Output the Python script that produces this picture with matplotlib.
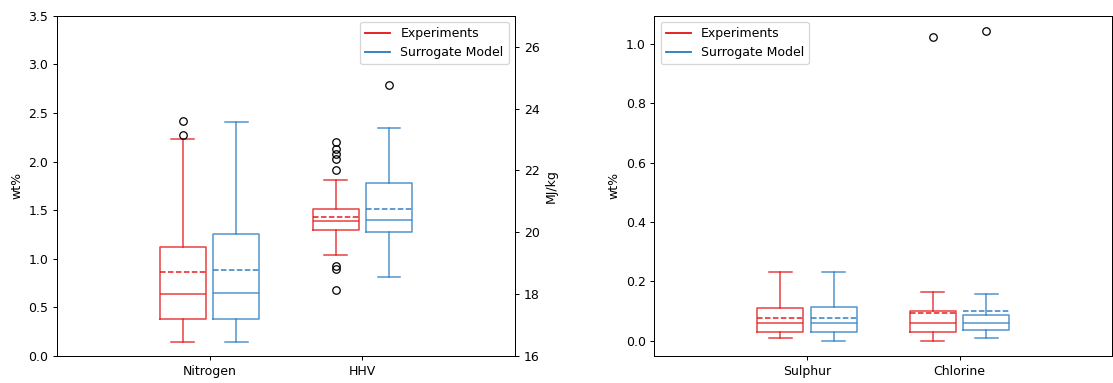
import matplotlib
matplotlib.use("Agg")
import matplotlib.pyplot as plt
from matplotlib.lines import Line2D

RED = "#e41a1c"
BLUE = "#2f7fc1"

labels = ["Experiments", "Surrogate Model"]

# box statistics read as: whislo, q1, med, mean, q3, whishi
nitrogen_exp = [0.14, 0.377, 0.634, 0.860, 1.124, 2.228]
nitrogen_sur = [0.14, 0.377, 0.644, 0.881, 1.258, 2.407]
nitrogen_exp_fliers = [2.273, 2.42]
nitrogen_sur_fliers = []

hhv_exp = [19.25, 20.06, 20.37, 20.48, 20.74, 21.70]
hhv_sur = [18.54, 20.02, 20.41, 20.74, 21.58, 23.38]
hhv_exp_fliers = [22.93, 22.70, 22.52, 22.36, 22.02, 18.92, 18.80, 18.14]
hhv_sur_fliers = [24.77]

sulphur_exp = [0.009, 0.028, 0.059, 0.077, 0.109, 0.230]
sulphur_sur = [0.0, 0.028, 0.059, 0.077, 0.112, 0.230]
sulphur_exp_fliers = []
sulphur_sur_fliers = []

chlorine_exp = [0.0, 0.030, 0.059, 0.092, 0.098, 0.165]
chlorine_sur = [0.009, 0.035, 0.059, 0.100, 0.086, 0.158]
chlorine_exp_fliers = [1.022]
chlorine_sur_fliers = [1.043]

offset = 0.175
width = 0.3


def make_stats(vals, fliers):
    keys = ["whislo", "q1", "med", "mean", "q3", "whishi"]
    d = dict(zip(keys, vals))
    d["fliers"] = fliers
    return d


def draw_box(ax, vals, fliers, pos, color):
    props = dict(color=color, linewidth=1.2, alpha=0.85)
    ax.bxp([make_stats(vals, fliers)], positions=[pos], widths=width,
           showmeans=True, meanline=True,
           boxprops=props, whiskerprops=props, capprops=props, medianprops=props,
           meanprops=dict(color=color, linewidth=1.2, linestyle="--"),
           flierprops=dict(marker="o", markerfacecolor="none", markeredgecolor="black",
                           markersize=6))


handles = [Line2D([], [], color=RED), Line2D([], [], color=BLUE)]

DPI = 90
fig = plt.figure(figsize=(1113 / DPI, 383 / DPI), dpi=DPI)
ax1 = fig.add_axes([0.0512, 0.0705, 0.4115, 0.8885])
ax3 = fig.add_axes([0.588, 0.0705, 0.4112, 0.8885])

# left panel: Nitrogen on wt%, HHV on MJ/kg twin axis
ax2 = ax1.twinx()
draw_box(ax1, nitrogen_exp, nitrogen_exp_fliers, 1 - offset, RED)
draw_box(ax1, nitrogen_sur, nitrogen_sur_fliers, 1 + offset, BLUE)
draw_box(ax2, hhv_exp, hhv_exp_fliers, 2 - offset, RED)
draw_box(ax2, hhv_sur, hhv_sur_fliers, 2 + offset, BLUE)
ax1.set_xlim(0, 3)
ax1.set_ylim(0, 3.5)
ax2.set_ylim(16, 27)
ax1.set_xticks([1, 2])
ax1.set_xticklabels(["Nitrogen", "HHV"])
ax1.set_ylabel("wt%")
ax2.set_ylabel("MJ/kg")
ax2.legend(handles, labels, loc="upper right")

# right panel: Sulphur and Chlorine
draw_box(ax3, sulphur_exp, sulphur_exp_fliers, 1 - offset, RED)
draw_box(ax3, sulphur_sur, sulphur_sur_fliers, 1 + offset, BLUE)
draw_box(ax3, chlorine_exp, chlorine_exp_fliers, 2 - offset, RED)
draw_box(ax3, chlorine_sur, chlorine_sur_fliers, 2 + offset, BLUE)
ax3.set_xlim(0, 3)
ax3.set_xticks([1, 2])
ax3.set_xticklabels(["Sulphur", "Chlorine"])
ax3.set_ylabel("wt%")
ax3.legend(handles, labels, loc="upper left")

fig.savefig("out.png", dpi=DPI)
